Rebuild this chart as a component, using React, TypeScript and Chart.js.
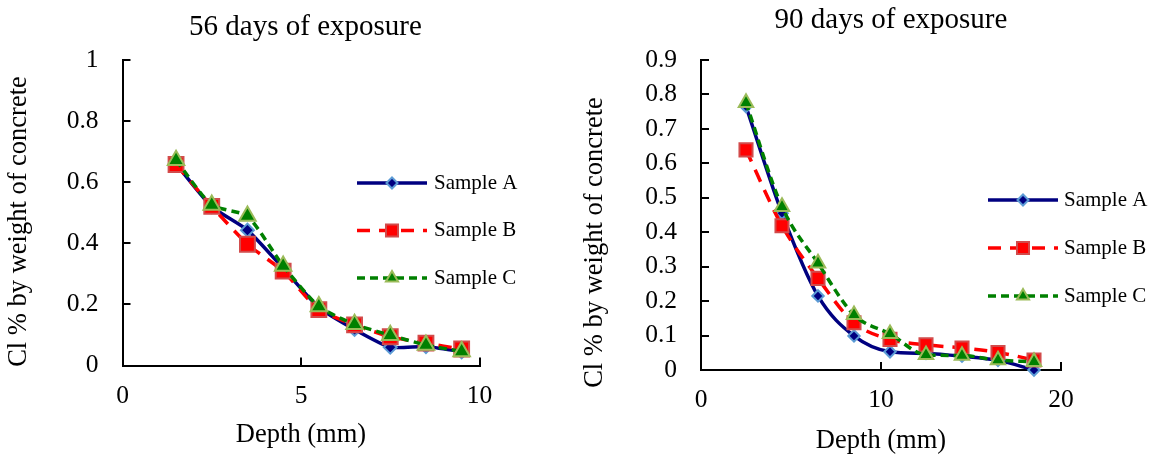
import React, { useEffect, useRef } from 'react';
import { Chart, registerables } from 'chart.js';

Chart.register(...registerables);

const FONT = '"Liberation Serif", "Times New Roman", serif';

// ---- Data: 56 days of exposure ----
const depth56 = [1.5, 2.5, 3.5, 4.5, 5.5, 6.5, 7.5, 8.5, 9.5];
const sampleA56 = [0.66, 0.52, 0.443, 0.318, 0.19, 0.118, 0.06, 0.062, 0.045];
const sampleB56 = [0.658, 0.521, 0.397, 0.309, 0.183, 0.133, 0.094, 0.073, 0.054];
const sampleC56 = [0.672, 0.525, 0.489, 0.326, 0.193, 0.135, 0.099, 0.067, 0.046];

// ---- Data: 90 days of exposure ----
const depth90 = [2.5, 4.5, 6.5, 8.5, 10.5, 12.5, 14.5, 16.5, 18.5];
const sampleA90 = [0.765, 0.455, 0.215, 0.099, 0.053, 0.048, 0.04, 0.028, 0.0];
const sampleB90 = [0.639, 0.419, 0.266, 0.137, 0.089, 0.073, 0.064, 0.051, 0.029];
const sampleC90 = [0.776, 0.474, 0.31, 0.16, 0.105, 0.044, 0.042, 0.029, 0.024];

const seriesNames = ['Sample A', 'Sample B', 'Sample C'];

const xTicks56 = [0, 5, 10];
const yTicks56 = [0, 0.2, 0.4, 0.6, 0.8, 1];
const xTicks90 = [0, 10, 20];
const yTicks90 = [0, 0.1, 0.2, 0.3, 0.4, 0.5, 0.6, 0.7, 0.8, 0.9];

const xAxisTitle = 'Depth (mm)';
const yAxisTitle = 'Cl % by weight of concrete';

// ---- Styles ----
const seriesStyles = [
  { line: '#000080', dash: [] as number[], pointStyle: 'rectRot', fill: '#000080', border: '#5B9BD5', radius: 6.5, legendRadius: 5.5, order: 3 },
  { line: '#FF0000', dash: [13, 9], pointStyle: 'rect', fill: '#FF0000', border: '#D24B4B', radius: 10.5, legendRadius: 8.5, order: 2 },
  { line: '#008000', dash: [8, 5], pointStyle: 'triangle', fill: '#008000', border: '#9BBB59', radius: 9.5, legendRadius: 7, order: 1 },
];

type Spec = {
  title: string;
  depths: number[];
  series: number[][];
  xMax: number;
  yMax: number;
  xTicks: number[];
  yTicks: number[];
  tension: number;
  interp: string;
  markerScale: number;
  layout: {
    padL: number; yW: number; rW: number; xH: number;
    titleTop: number; titleBottom: number; xTitlePad: number;
    yTitleX: number; yTitleY: number;
    legendX1: number; legendX2: number; legendTextX: number; legendY0: number; legendGap: number;
  };
};

const chart56: Spec = {
  title: '56 days of exposure',
  depths: depth56,
  series: [sampleA56, sampleB56, sampleC56],
  xMax: 10,
  yMax: 1,
  xTicks: xTicks56,
  yTicks: yTicks56,
  tension: 0.2,
  interp: 'default',
  markerScale: 1,
  layout: {
    padL: 36, yW: 86.5, rW: 95.5, xH: 90.5,
    titleTop: 9.6, titleBottom: 15.6, xTitlePad: 6.4,
    yTitleX: 19, yTitleY: 221.5,
    legendX1: 357, legendX2: 427, legendTextX: 434, legendY0: 183, legendGap: 47.5,
  },
};

const chart90: Spec = {
  title: '90 days of exposure',
  depths: depth90,
  series: [sampleA90, sampleB90, sampleC90],
  xMax: 20,
  yMax: 0.9,
  xTicks: xTicks90,
  yTicks: yTicks90,
  tension: 0.4,
  interp: 'monotone',
  markerScale: 0.88,
  layout: {
    padL: 57, yW: 69, rW: 89, xH: 86,
    titleTop: 2.6, titleBottom: 22.6, xTitlePad: 0,
    yTitleX: 20, yTitleY: 242.5,
    legendX1: 413, legendX2: 483, legendTextX: 489, legendY0: 200, legendGap: 48,
  },
};

function drawMarker(ctx: CanvasRenderingContext2D, style: string, x: number, y: number, r: number) {
  ctx.beginPath();
  if (style === 'rectRot') {
    ctx.moveTo(x - r, y);
    ctx.lineTo(x, y - r);
    ctx.lineTo(x + r, y);
    ctx.lineTo(x, y + r);
    ctx.closePath();
  } else if (style === 'rect') {
    const s = Math.SQRT1_2 * r;
    ctx.rect(x - s, y - s, 2 * s, 2 * s);
  } else {
    for (let k = 0; k < 3; k++) {
      const a = (k * 2 * Math.PI) / 3;
      const px = x + Math.sin(a) * r;
      const py = y - Math.cos(a) * r;
      if (k === 0) ctx.moveTo(px, py);
      else ctx.lineTo(px, py);
    }
    ctx.closePath();
  }
  ctx.fill();
  ctx.stroke();
}

function buildConfig(spec: Spec): any {
  const L = spec.layout;
  const tickFont = { family: FONT, size: 25.5 };
  const datasets = spec.series.map((vals, i) => {
    const st = seriesStyles[i];
    return {
      label: seriesNames[i],
      data: spec.depths.map((x, j) => ({ x, y: vals[j] })),
      order: st.order,
      borderColor: st.line,
      backgroundColor: st.fill,
      borderWidth: 3.5,
      borderDash: st.dash,
      tension: spec.tension,
      cubicInterpolationMode: spec.interp,
      fill: false,
      pointStyle: st.pointStyle,
      pointRadius: st.radius * spec.markerScale,
      pointBackgroundColor: st.fill,
      pointBorderColor: st.border,
      pointBorderWidth: 2,
      clip: false,
    };
  });

  const yTitlePlugin = {
    id: 'yTitle',
    afterDraw(chart: any) {
      const ctx = chart.ctx as CanvasRenderingContext2D;
      ctx.save();
      ctx.translate(L.yTitleX, L.yTitleY);
      ctx.rotate(-Math.PI / 2);
      ctx.font = `26.5px ${FONT}`;
      ctx.fillStyle = '#000';
      ctx.textAlign = 'center';
      ctx.textBaseline = 'middle';
      ctx.fillText(yAxisTitle, 0, 0);
      ctx.restore();
    },
  };

  const legendPlugin = {
    id: 'lineLegend',
    afterDraw(chart: any) {
      const ctx = chart.ctx as CanvasRenderingContext2D;
      chart.data.datasets.forEach((ds: any, i: number) => {
        const st = seriesStyles[i];
        const y = L.legendY0 + i * L.legendGap;
        ctx.save();
        ctx.strokeStyle = ds.borderColor;
        ctx.lineWidth = ds.borderWidth;
        ctx.setLineDash(ds.borderDash || []);
        ctx.beginPath();
        ctx.moveTo(L.legendX1, y);
        ctx.lineTo(L.legendX2, y);
        ctx.stroke();
        ctx.setLineDash([]);
        ctx.fillStyle = st.fill;
        ctx.strokeStyle = st.border;
        ctx.lineWidth = 2;
        drawMarker(ctx, st.pointStyle, (L.legendX1 + L.legendX2) / 2, y, st.legendRadius);
        ctx.fillStyle = '#000';
        ctx.font = `21px ${FONT}`;
        ctx.textAlign = 'left';
        ctx.textBaseline = 'middle';
        ctx.fillText(ds.label, L.legendTextX, y);
        ctx.restore();
      });
    },
  };

  return {
    type: 'line',
    data: { datasets },
    options: {
      animation: false,
      responsive: false,
      events: [],
      layout: { padding: { left: L.padL, right: 0, top: 0, bottom: 0 } },
      plugins: {
        legend: { display: false },
        tooltip: { enabled: false },
        title: {
          display: true,
          text: spec.title,
          color: '#000',
          font: { family: FONT, size: 29, weight: 'normal', lineHeight: 1.2 },
          padding: { top: L.titleTop, bottom: L.titleBottom },
        },
      },
      scales: {
        x: {
          type: 'linear',
          position: 'bottom',
          min: 0,
          max: spec.xMax,
          afterBuildTicks: (s: any) => {
            s.ticks = spec.xTicks.map((v) => ({ value: v }));
          },
          afterFit: (s: any) => {
            s.height = L.xH;
          },
          ticks: { color: '#000', font: tickFont, padding: 23, maxRotation: 0, callback: (v: any) => String(v) },
          grid: { display: true, drawOnChartArea: false, drawTicks: true, tickLength: -8, color: '#000', lineWidth: 2 },
          border: { display: true, color: '#000', width: 2 },
          title: {
            display: true,
            text: xAxisTitle,
            color: '#000',
            font: { family: FONT, size: 26.5, lineHeight: 1.1 },
            padding: { top: 0, bottom: L.xTitlePad },
          },
        },
        y: {
          type: 'linear',
          position: 'left',
          min: 0,
          max: spec.yMax,
          afterBuildTicks: (s: any) => {
            s.ticks = spec.yTicks.map((v) => ({ value: v }));
          },
          afterFit: (s: any) => {
            s.width = L.yW;
          },
          ticks: { color: '#000', font: tickFont, padding: 32, callback: (v: any) => String(v) },
          grid: { display: true, drawOnChartArea: false, drawTicks: true, tickLength: -8, color: '#000', lineWidth: 2 },
          border: { display: true, color: '#000', width: 2 },
        },
        yRight: {
          type: 'linear',
          position: 'right',
          display: true,
          afterFit: (s: any) => {
            s.width = L.rW;
          },
          ticks: { display: false },
          grid: { display: false },
          border: { display: false },
        },
      },
    },
    plugins: [yTitlePlugin, legendPlugin],
  };
}

function ExposureChart({ spec }: { spec: Spec }) {
  const ref = useRef<HTMLCanvasElement | null>(null);
  useEffect(() => {
    if (!ref.current) return;
    const chart = new Chart(ref.current, buildConfig(spec));
    return () => chart.destroy();
  }, [spec]);
  return (
    <canvas
      ref={ref}
      width={575}
      height={456}
      style={{ display: 'block', width: 575, height: 456 }}
    />
  );
}

export default function App() {
  return (
    <div
      style={{
        position: 'absolute',
        left: 0,
        top: 0,
        width: 1150,
        height: 456,
        display: 'flex',
        background: '#fff',
      }}
    >
      <ExposureChart spec={chart56} />
      <ExposureChart spec={chart90} />
    </div>
  );
}
